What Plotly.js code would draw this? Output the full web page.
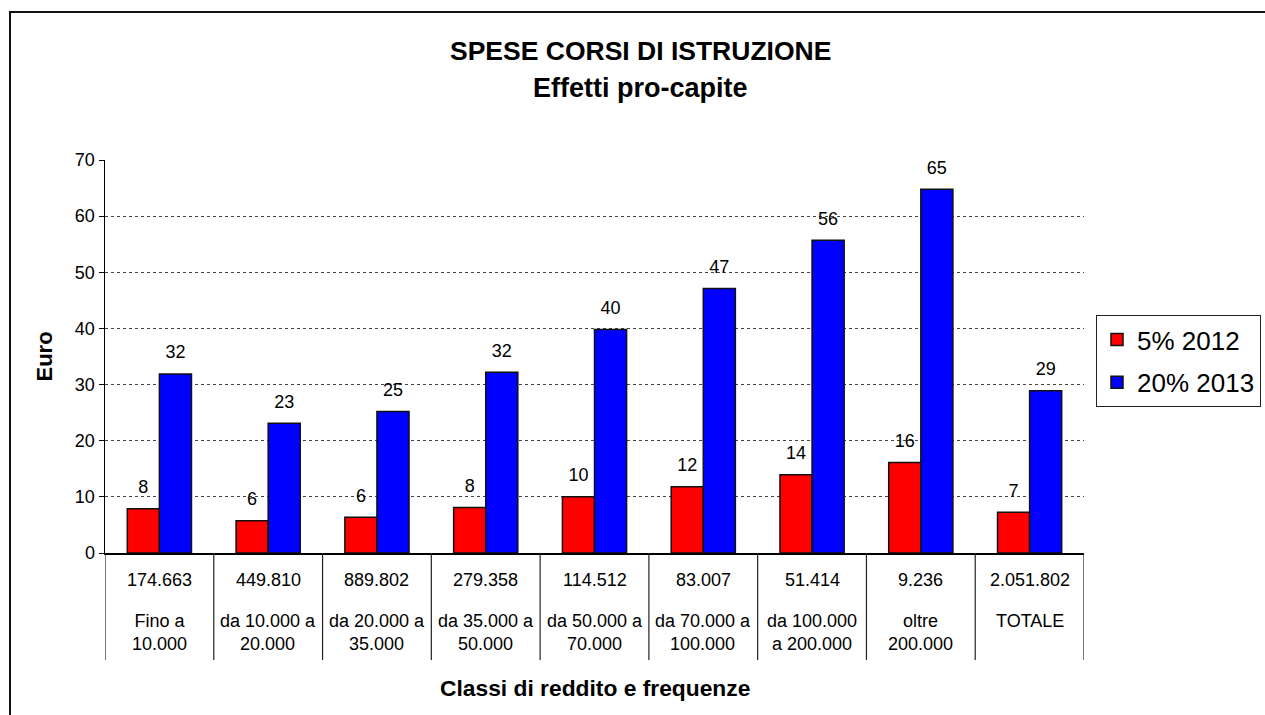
<!DOCTYPE html>
<html>
<head>
<meta charset="utf-8">
<script src="https://cdn.plot.ly/plotly-3.0.1.min.js"></script>
<style>
  html, body { margin: 0; padding: 0; background: #fff; overflow: hidden; }
  #wrap { position: relative; width: 1265px; height: 715px; }
  #chart { position: absolute; left: 0; top: 0; width: 1265px; height: 715px; }
  #frame { position: absolute; left: 9px; top: 11px; width: 1400px; height: 900px;
           border: 2px solid #111; pointer-events: none; box-sizing: border-box; }
</style>
</head>
<body>
<div id="wrap">
  <div id="chart"></div>
  <div id="frame"></div>
</div>
<script>
// ---- data ----
var frequencies = ["174.663", "449.810", "889.802", "279.358", "114.512", "83.007", "51.414", "9.236", "2.051.802"];
var classes = ["Fino a<br>10.000", "da 10.000 a<br>20.000", "da 20.000 a<br>35.000", "da 35.000 a<br>50.000",
               "da 50.000 a<br>70.000", "da 70.000 a<br>100.000", "da 100.000<br>a 200.000", "oltre<br>200.000", "TOTALE"];
var seriesNames = ["5% 2012", "20% 2013"];
var values2012 = [7.9, 5.75, 6.35, 8.1, 10.0, 11.8, 13.95, 16.1, 7.25];
var values2013 = [31.9, 23.1, 25.2, 32.2, 39.8, 47.1, 55.7, 64.8, 28.9];
var titleLine1 = "SPESE CORSI DI ISTRUZIONE";
var titleLine2 = "Effetti pro-capite";
var yTitle = "Euro";
var xTitle = "Classi di reddito e frequenze";

// ---- style ----
var FONT = "Liberation Sans, Arial, sans-serif";
var colors = ["#ff0000", "#0000ff"];
var GAP = 0.41;

function barTrace(vals, i) {
  return {
    type: "bar", x: frequencies, y: vals, name: seriesNames[i],
    legendgroup: "g" + i,
    marker: { color: colors[i], line: { color: "#111", width: 1.5 } },
    hoverinfo: "skip"
  };
}
function labelTrace(vals, i) {
  return {
    type: "scatter", mode: "markers+text", x: frequencies, y: vals,
    orientation: "v", showlegend: false, hoverinfo: "skip",
    marker: { size: 16, opacity: 0, color: colors[i] },
    text: vals.map(function (v) { return String(Math.round(v)); }),
    textposition: "top center",
    textfont: { family: FONT, size: 18, color: "#000" },
    cliponaxis: false
  };
}

var data = [barTrace(values2012, 0), barTrace(values2013, 1),
            labelTrace(values2012, 0), labelTrace(values2013, 1)];

var annotations = [];
frequencies.forEach(function (f, i) {
  annotations.push({ xref: "x", yref: "paper", x: i, y: -0.0687, yanchor: "middle", xanchor: "center",
    text: f, showarrow: false, font: { family: FONT, size: 18, color: "#000" } });
  annotations.push({ xref: "x", yref: "paper", x: i, y: -0.1425, yanchor: "top", xanchor: "center",
    text: classes[i], showarrow: false, font: { family: FONT, size: 18, color: "#000" } });
});
annotations.push({ xref: "paper", yref: "paper", x: 0.5465, y: 1.277, xanchor: "center", yanchor: "middle",
  text: "<b>" + titleLine1 + "</b>", showarrow: false, font: { family: FONT, size: 26.5, color: "#000" } });
annotations.push({ xref: "paper", yref: "paper", x: 0.5465, y: 1.183, xanchor: "center", yanchor: "middle",
  text: "<b>" + titleLine2 + "</b>", showarrow: false, font: { family: FONT, size: 27, color: "#000" } });
annotations.push({ xref: "paper", yref: "paper", x: -0.0613, y: 0.5, xanchor: "center", yanchor: "middle",
  textangle: -90, text: "<b>" + yTitle + "</b>", showarrow: false, font: { family: FONT, size: 22, color: "#000" } });
annotations.push({ xref: "paper", yref: "paper", x: 0.5, y: -0.3435, xanchor: "center", yanchor: "middle",
  text: "<b>" + xTitle + "</b>", showarrow: false, font: { family: FONT, size: 22.8, color: "#000" } });

var shapes = [];
for (var k = 0; k <= frequencies.length; k++) {
  shapes.push({ type: "line", xref: "x", yref: "paper", x0: k - 0.5, x1: k - 0.5, y0: 0, y1: -0.272,
    line: { color: "#222", width: 1.2 } });
}

var layout = {
  width: 1265, height: 715,
  margin: { l: 105, r: 181, t: 160, b: 162 },
  paper_bgcolor: "#fff", plot_bgcolor: "#fff",
  font: { family: FONT, size: 17, color: "#000" },
  barmode: "group", bargap: GAP, bargroupgap: 0,
  scattermode: "group", scattergap: GAP,
  showlegend: true,
  legend: {
    xref: "container", yref: "container",
    x: 1096 / 1265, y: 1 - 315 / 715, xanchor: "left", yanchor: "top",
    bgcolor: "#fff", bordercolor: "#222", borderwidth: 1,
    font: { family: FONT, size: 26, color: "#000" },
    traceorder: "grouped", tracegroupgap: 6
  },
  xaxis: {
    type: "category", range: [-0.5, frequencies.length - 0.5],
    showticklabels: false, ticks: "", showgrid: false, zeroline: false,
    showline: true, linecolor: "#000", linewidth: 1.5, fixedrange: true
  },
  yaxis: {
    range: [0, 70], dtick: 10, tick0: 0,
    showline: true, linecolor: "#000", linewidth: 1.5,
    ticks: "outside", ticklen: 5, tickcolor: "#000", tickwidth: 1,
    showgrid: true, gridcolor: "#444", gridwidth: 1, griddash: "dot",
    zeroline: false, tickfont: { family: FONT, size: 18, color: "#000" }, fixedrange: true
  },
  annotations: annotations,
  shapes: shapes
};

Plotly.newPlot("chart", data, layout, { staticPlot: true, displayModeBar: false });
</script>
</body>
</html>
